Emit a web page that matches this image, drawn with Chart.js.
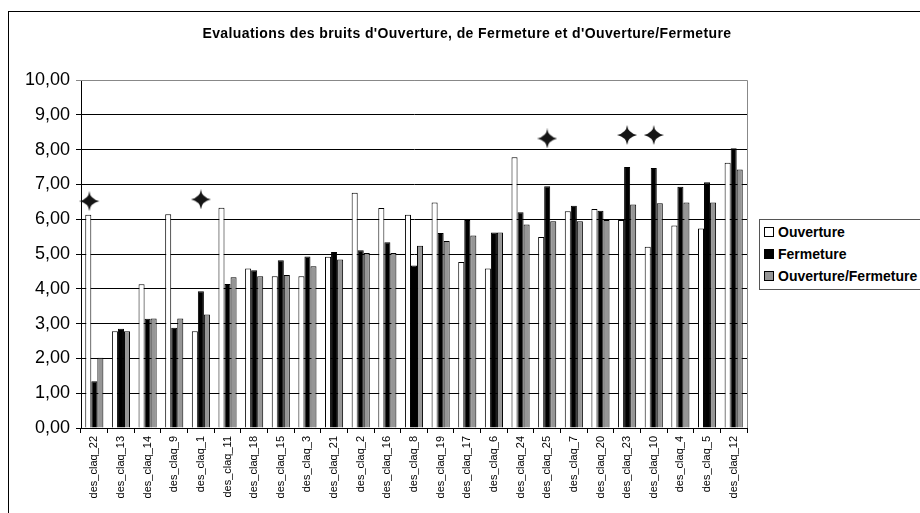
<!DOCTYPE html>
<html>
<head>
<meta charset="utf-8">
<script src="https://cdn.jsdelivr.net/npm/chart.js@4/dist/chart.umd.min.js"></script>
<style>
  body { margin: 0; background: #fff; }
  #wrap { position: relative; width: 920px; height: 513px; overflow: hidden; }
  #title {
    position: absolute; left: 0; top: 25px; width: 934px; text-align: center;
    font: bold 14px "Liberation Sans", Arial, sans-serif; letter-spacing: 0.4px; color: #000;
  }
  #legend {
    position: absolute; left: 759px; top: 219px; width: 180px; height: 69px;
    border: 1px solid #555; background: #fff;
    font: bold 14px "Liberation Sans", Arial, sans-serif; color: #000;
  }
  #legend div { position: absolute; left: 4px; white-space: nowrap; }
  #legend span.box {
    display: inline-block; width: 8px; height: 8px; border: 1px solid #000;
    margin-right: 4px; vertical-align: 0px;
  }
</style>
</head>
<body>
<div id="wrap">
  <canvas id="chart" width="920" height="513"></canvas>
  <div id="title">Evaluations des bruits d'Ouverture, de Fermeture et d'Ouverture/Fermeture</div>
  <div id="legend"></div>
</div>
<script>
const categories = ['des_claq_22', 'des_claq_13', 'des_claq_14', 'des_claq_9', 'des_claq_1',
  'des_claq_11', 'des_claq_18', 'des_claq_15', 'des_claq_3', 'des_claq_21', 'des_claq_2',
  'des_claq_16', 'des_claq_8', 'des_claq_19', 'des_claq_17', 'des_claq_6', 'des_claq_24',
  'des_claq_25', 'des_claq_7', 'des_claq_20', 'des_claq_23', 'des_claq_10', 'des_claq_4',
  'des_claq_5', 'des_claq_12'];

const seriesNames = ['Ouverture', 'Fermeture', 'Ouverture/Fermeture'];
const seriesColors = ['#ffffff', '#000000', '#969696'];

const ouverture = [6.13, 2.78, 4.13, 6.14, 2.78, 6.33, 4.58, 4.36, 4.36, 4.92, 6.76, 6.32, 6.13,
  6.48, 4.77, 4.58, 7.78, 5.49, 6.23, 6.29, 5.98, 5.21, 5.82, 5.73, 7.62];
const fermeture = [1.34, 2.85, 3.14, 2.88, 3.93, 4.14, 4.53, 4.82, 4.93, 5.06, 5.11, 5.34, 4.67,
  5.60, 5.98, 5.62, 6.20, 6.95, 6.39, 6.24, 7.50, 7.47, 6.93, 7.06, 8.04];
const ouvFerm = [2.02, 2.78, 3.15, 3.15, 3.26, 4.33, 4.36, 4.40, 4.65, 4.84, 5.03, 5.03, 5.24,
  5.37, 5.53, 5.62, 5.85, 5.94, 5.94, 5.98, 6.42, 6.46, 6.48, 6.48, 7.43];

// star markers above some groups
const starValues = [6.52, null, null, null, 6.57, null, null, null, null, null, null, null, null,
  null, null, null, null, 8.32, null, null, 8.42, 8.42, null, null, null];

const yTicks = [0, 1, 2, 3, 4, 5, 6, 7, 8, 9, 10];

// 4-point star image; shift moves the star left inside a wider canvas
function makeStar(shift) {
  const c = document.createElement('canvas');
  c.width = 20 + 2 * shift; c.height = 20;
  const g = c.getContext('2d');
  const cx = 10, cy = 10, r = 2.2;
  g.beginPath();
  g.moveTo(cx, 0);
  g.quadraticCurveTo(cx + r * 0.3, cy - r, 20, cy);
  g.quadraticCurveTo(cx + r * 0.3, cy + r, cx, 20);
  g.quadraticCurveTo(cx - r * 0.3, cy + r, 0, cy);
  g.quadraticCurveTo(cx - r * 0.3, cy - r, cx, 0);
  g.closePath();
  g.fillStyle = '#151515';
  g.fill();
  return c;
}
const starImg = makeStar(0);
const starImgLeft = makeStar(5);

const legendEl = document.getElementById('legend');
seriesNames.forEach((name, i) => {
  const d = document.createElement('div');
  d.style.top = (4 + i * 22) + 'px';
  d.innerHTML = '<span class="box" style="background:' + seriesColors[i] + '"></span>' + name;
  legendEl.appendChild(d);
});

const framePlugin = {
  id: 'frame',
  beforeDraw(chart) {
    const ctx = chart.ctx;
    ctx.save();
    ctx.fillStyle = '#fff';
    ctx.fillRect(0, 0, chart.width, chart.height);
    ctx.strokeStyle = '#000';
    ctx.lineWidth = 1;
    ctx.strokeRect(8.5, 11.5, 1000, 600);
    ctx.restore();
  },
  afterDraw(chart) {
    const a = chart.chartArea;
    const ctx = chart.ctx;
    ctx.save();
    ctx.strokeStyle = '#888';
    ctx.lineWidth = 1;
    ctx.beginPath();
    ctx.moveTo(a.left, Math.round(a.top) + 0.5);
    ctx.lineTo(Math.round(a.right) + 0.5, Math.round(a.top) + 0.5);
    ctx.lineTo(Math.round(a.right) + 0.5, a.bottom);
    ctx.stroke();
    ctx.restore();
  }
};

const barDs = (label, data, color) => ({
  label, data,
  backgroundColor: color,
  borderColor: '#000',
  borderWidth: 1,
  categoryPercentage: 0.68,
  barPercentage: 1,
  order: 2
});

new Chart(document.getElementById('chart'), {
  type: 'bar',
  data: {
    labels: categories,
    datasets: [
      barDs(seriesNames[0], ouverture, seriesColors[0]),
      barDs(seriesNames[1], fermeture, seriesColors[1]),
      barDs(seriesNames[2], ouvFerm, seriesColors[2]),
      {
        type: 'line',
        label: 'stars',
        data: starValues,
        showLine: false,
        pointStyle: starValues.map((v, i) => i === 0 ? starImgLeft : starImg),
        order: 1
      }
    ]
  },
  options: {
    responsive: false,
    animation: false,
    devicePixelRatio: 1,
    layout: { padding: { left: 0, right: 173, top: 80, bottom: 0 } },
    plugins: {
      legend: { display: false },
      tooltip: { enabled: false },
      title: { display: false }
    },
    scales: {
      x: {
        type: 'category',
        offset: true,
        grid: { display: true, drawOnChartArea: false, offset: true, color: '#000', tickLength: 5 },
        border: { color: '#000', width: 1 },
        ticks: {
          color: '#000', minRotation: 90, maxRotation: 90, autoSkip: false, padding: 3,
          font: { family: '"Liberation Sans", Arial, sans-serif', size: 11 }
        },
        afterFit(scale) { scale.height = 85; }
      },
      y: {
        min: 0, max: 10,
        afterBuildTicks(scale) { scale.ticks = yTicks.map(v => ({ value: v })); },
        grid: {
          color: ctx => ctx.tick && ctx.tick.value === 10 ? '#888' : '#000',
          lineWidth: 1, tickLength: 5
        },
        border: { color: '#000', width: 1 },
        ticks: {
          color: '#000', padding: 6,
          font: { family: '"Liberation Sans", Arial, sans-serif', size: 18 },
          callback: v => v.toFixed(2).replace('.', ',')
        },
        afterFit(scale) { scale.width = 81; }
      }
    }
  },
  plugins: [framePlugin]
});
</script>
</body>
</html>
